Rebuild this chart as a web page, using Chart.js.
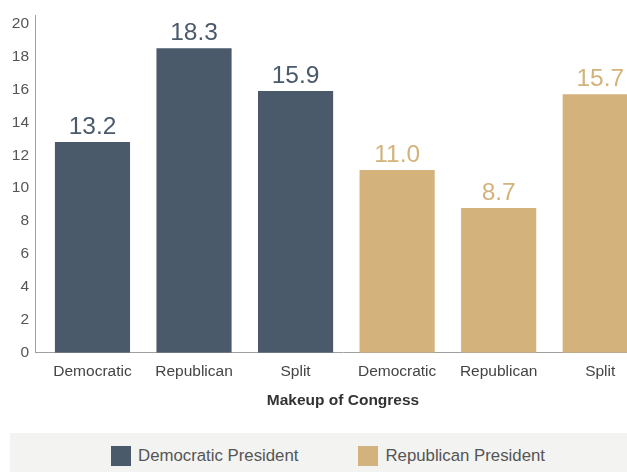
<!DOCTYPE html>
<html>
<head>
<meta charset="utf-8">
<script src="https://cdn.jsdelivr.net/npm/chart.js@4.4.1/dist/chart.umd.min.js"></script>
<style>
    html, body { margin: 0; padding: 0; background: #fff; overflow: hidden; }
    #wrap { position: relative; width: 656px; height: 472px; }
    #chartBox { position: absolute; left: 0; top: 0; width: 656px; height: 420px; }
    #legend {
        position: absolute; left: 10px; top: 433px; width: 636px; height: 60px;
        background: #f3f3f1; display: flex; justify-content: center; align-items: flex-start;
        font-family: "Liberation Sans", Arial, sans-serif; font-size: 16.8px; color: #555;
    }
    .item { display: flex; align-items: center; margin: 13px 30px 0; }
    .swatch { width: 20px; height: 20px; margin-right: 7px; }
</style>
</head>
<body>
<div id="wrap">
    <div id="chartBox"><canvas id="congressChart"></canvas></div>
    <div id="legend"></div>
</div>
<script>
// 数据
const categories = ["Democratic", "Republican", "Split", "Democratic", "Republican", "Split"];
const demPresident = [12.8, 18.5, 15.9];   // 柱高
const repPresident = [11.1, 8.8, 15.7];
const valueLabels = ["13.2", "18.3", "15.9", "11.0", "8.7", "15.7"];
const yTickValues = [0, 2, 4, 6, 8, 10, 12, 14, 16, 18, 20];
const seriesNames = ["Democratic President", "Republican President"];

const darkColor = "#4a5a6a";
const tanColor = "#d3b37b";

Chart.defaults.font.family = '"Liberation Sans", Arial, sans-serif';

// 柱顶数值标签
const valueLabelPlugin = {
    id: "valueLabels",
    afterDatasetsDraw(chart) {
        const ctx = chart.ctx;
        ctx.save();
        ctx.font = '24.5px "Liberation Sans", Arial, sans-serif';
        ctx.textAlign = "center";
        ctx.textBaseline = "alphabetic";
        chart.data.datasets.forEach((ds, d) => {
            const meta = chart.getDatasetMeta(d);
            meta.data.forEach((bar, j) => {
                ctx.fillStyle = ds.backgroundColor;
                ctx.fillText(valueLabels[ds.data[j].x], bar.x, bar.y - 8);
            });
        });
        ctx.restore();
    },
};

const chart = new Chart(document.getElementById("congressChart"), {
    type: "bar",
    data: {
        datasets: [{
                label: seriesNames[0],
                data: demPresident.map((v, i) => ({ x: i, y: v })),
                backgroundColor: darkColor,
            },
            {
                label: seriesNames[1],
                data: repPresident.map((v, i) => ({ x: i + 3, y: v })),
                backgroundColor: tanColor,
            },
        ],
    },
    options: {
        responsive: true,
        maintainAspectRatio: false,
        animation: false,
        grouped: false,
        categoryPercentage: 0.74,
        barPercentage: 1,
        layout: { padding: { top: 15, right: 5, bottom: 6, left: 0 } },
        plugins: {
            legend: { display: false },
            tooltip: { enabled: false },
        },
        scales: {
            x: {
                type: "linear",
                offset: false,
                min: -0.566,
                max: 5.5,
                afterBuildTicks: (scale) => {
                    scale.ticks = categories.map((c, i) => ({ value: i }));
                },
                grid: { display: false, drawTicks: false },
                border: { display: true, color: "#a0a0a0" },
                ticks: {
                    autoSkip: false,
                    maxRotation: 0,
                    padding: 10,
                    color: "#444",
                    font: { size: 15.5 },
                    callback: (value) => categories[value],
                },
                title: {
                    display: true,
                    text: "Makeup of Congress",
                    color: "#333",
                    font: { size: 15.5, weight: "bold" },
                    padding: { top: 0, bottom: 4 },
                },
            },
            y: {
                min: 0,
                max: 20.5,
                afterBuildTicks: (scale) => {
                    scale.ticks = yTickValues.map((v) => ({ value: v }));
                },
                afterFit: (scale) => {
                    scale.width = 35;
                },
                grid: { display: false, drawTicks: false },
                border: { display: true, color: "#a0a0a0" },
                ticks: {
                    padding: 6,
                    color: "#555",
                    font: { size: 15.5 },
                },
            },
        },
    },
    plugins: [valueLabelPlugin],
});

// 图例（HTML）
const legendEl = document.getElementById("legend");
chart.data.datasets.forEach((ds) => {
    const item = document.createElement("div");
    item.className = "item";
    item.innerHTML = '<span class="swatch" style="background:' + ds.backgroundColor + '"></span><span>' + ds.label + "</span>";
    legendEl.appendChild(item);
});
</script>
</body>
</html>
